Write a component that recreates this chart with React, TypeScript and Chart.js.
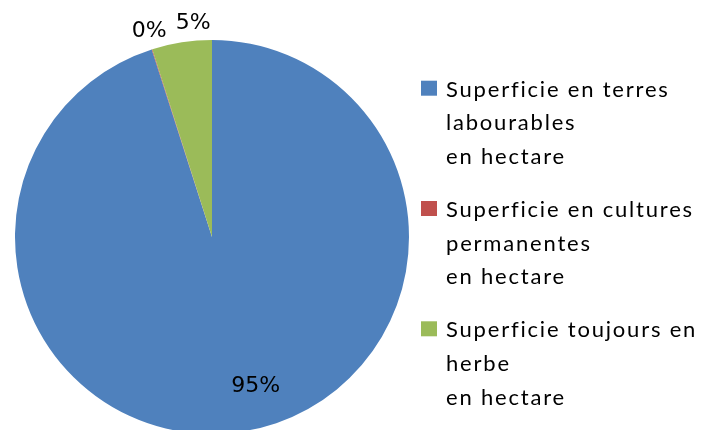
import React, { useEffect, useRef } from "react";
import { Chart, registerables } from "chart.js";

Chart.register(...registerables);

const categories: string[][] = [
  ["Superficie en terres", "labourables", "en hectare"],
  ["Superficie en cultures", "permanentes", "en hectare"],
  ["Superficie toujours en", "herbe", "en hectare"],
];
const values: number[] = [95.05, 0.05, 4.9];
const colors: string[] = ["#4F81BD", "#C0504D", "#9BBB59"];
// small angular nudges (degrees) for percentage labels, like Excel's best-fit placement
const labelShiftDeg: number[] = [-7.4, 0.7, 3.8];

const labelPlugin = {
  id: "pctLabels",
  afterDatasetsDraw(chart: any) {
    const ctx = chart.ctx;
    const meta = chart.getDatasetMeta(0);
    const data = chart.data.datasets[0].data as number[];
    const total = data.reduce((a, b) => a + b, 0);
    ctx.save();
    ctx.font = "22px 'DejaVu Sans'";
    ctx.fillStyle = "#000";
    ctx.textAlign = "center";
    ctx.textBaseline = "middle";
    meta.data.forEach((arc: any, i: number) => {
      const { x, y, startAngle, endAngle, outerRadius } = arc.getProps(
        ["x", "y", "startAngle", "endAngle", "outerRadius"],
        true
      );
      const share = data[i] / total;
      const mid = (startAngle + endAngle) / 2 + (labelShiftDeg[i] * Math.PI) / 180;
      const r = share > 0.5 ? outerRadius * 0.79 : outerRadius * 1.09;
      const lx = x + Math.cos(mid) * r;
      const ly = y + Math.sin(mid) * r;
      ctx.fillText(Math.round(share * 100) + "%", lx, ly);
    });
    ctx.restore();
  },
};

const legendPlugin = {
  id: "sideLegend",
  afterDraw(chart: any) {
    const ctx = chart.ctx;
    const area = chart.chartArea;
    const boxX = area.right + 12;
    const textX = boxX + 25;
    const lineH = 33.6;
    const itemGap = 19.5;
    let baseline = 96.7;
    ctx.save();
    ctx.font = "22px Lato";
    (ctx as any).letterSpacing = "1.8px";
    ctx.textBaseline = "alphabetic";
    ctx.textAlign = "left";
    categories.forEach((lines, i) => {
      ctx.fillStyle = colors[i];
      ctx.fillRect(boxX, baseline - 16, 16, 15);
      ctx.fillStyle = "#000";
      lines.forEach((t, j) => {
        ctx.fillText(t, textX, baseline + j * lineH);
      });
      baseline += lines.length * lineH + itemGap;
    });
    ctx.restore();
  },
};

export default function App() {
  const ref = useRef<HTMLCanvasElement | null>(null);
  useEffect(() => {
    document.body.style.margin = "0";
    document.body.style.overflow = "hidden";
    if (!ref.current) return;
    const chart = new Chart(ref.current, {
      type: "pie",
      data: {
        labels: categories.map((l) => l.join(" ")),
        datasets: [
          {
            data: values,
            backgroundColor: colors,
            borderWidth: 0,
          },
        ],
      },
      options: {
        animation: false,
        responsive: true,
        maintainAspectRatio: false,
        layout: { padding: { left: 15, top: 40, right: 292, bottom: 2 } },
        plugins: {
          legend: { display: false },
          tooltip: { enabled: false },
        },
      },
      plugins: [labelPlugin, legendPlugin],
    });
    return () => chart.destroy();
  }, []);
  return (
    <div style={{ position: "absolute", left: 0, top: 0, width: 701, height: 436, background: "#fff" }}>
      <canvas ref={ref} />
    </div>
  );
}
